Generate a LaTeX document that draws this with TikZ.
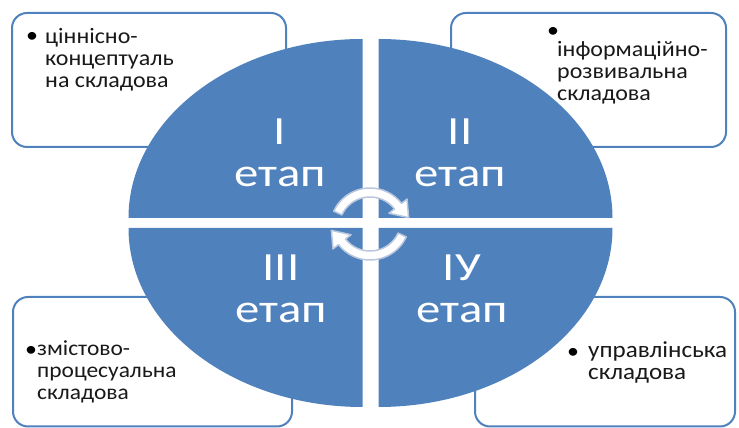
\documentclass[tikz,border=0pt]{standalone}
\usepackage{fontspec}
\setmainfont{Carlito}[FakeStretch=1.09]
\newfontfamily\stagefont{Carlito}[FakeStretch=1.22]
\usetikzlibrary{positioning}

\begin{document}
\begin{tikzpicture}[x=1pt, y=1pt,
    part/.style={draw=b, line width=2pt, fill=white, rounded corners=15pt},
    item/.style={anchor=base west, align=left, inner sep=0pt, text=black!90, font=\fontsize{#1}{22}\selectfont},
    bullet/.style={inner sep=0pt, text=black, font=\fontsize{22}{22}\selectfont},
    stage/.style={anchor=base, align=center, inner sep=0pt, text=white, font=\stagefont\fontsize{40}{42}\selectfont},
    turn/.style={fill=white, draw=a, line width=1.5pt, line join=round}]
  \definecolor{b}{HTML}{4F81BD}
  \definecolor{a}{HTML}{BAC8DE}
  \useasboundingbox (0, 0) rectangle (739, 428);

  \foreach \xa/\ya/\xb/\yb in {12/281/286/415, 451/281/726/415, 13/1.5/292/131, 475/1.5/735/131}
      \draw [part] (\xa, \ya) rectangle (\xb, \yb);

  \foreach \nm/\bx/\by in {tl/32/391, tr/553/396, bl/31/77, br/573/75}
      \node (\nm-dot) at (\bx, \by) [bullet] {•};

  % base anchor sits on the last line
  \node (tl-txt) at (45, 340) [item=22] {ціннісно-\\концептуаль\\на складова};
  \node (tr-txt) at (557, 327) [item=22] {інформаційно-\\розвивальна\\складова};
  \node (bl-txt) at (37, 28) [item=21.5] {змістово-\\процесуальна\\складова};
  \node (br-txt) at (588, 48) [item=23] {управлінська\\складова};

  \foreach \dx/\dy/\a in {-8/5/90, 8/5/0, -8/-5/180, 8/-5/270}
      \fill [b] (370.5+\dx, 205+\dy) -- +(\a:234 and 179) arc [start angle=\a, delta angle=90, x radius=234, y radius=179] -- cycle;

  \node (s1) at (280, 241) [stage] {I\\етап};
  \node (s2) at (460, 241) [stage] {II\\етап};
  \node (s3) at (281, 105) [stage] {III\\етап};
  \node (s4) at (462, 105) [stage] {IУ\\етап};

  \foreach \r in {0, 180}
      \filldraw [turn, rotate around={\r:(370, 204)}, shift={(370, 200)}] (155:40) arc [start angle=155, end angle=38, radius=40] -- (38:47) -- (15:40) -- (38:24) -- (38:31) arc [start angle=38, end angle=155, radius=31] -- cycle;
\end{tikzpicture}
\end{document}
